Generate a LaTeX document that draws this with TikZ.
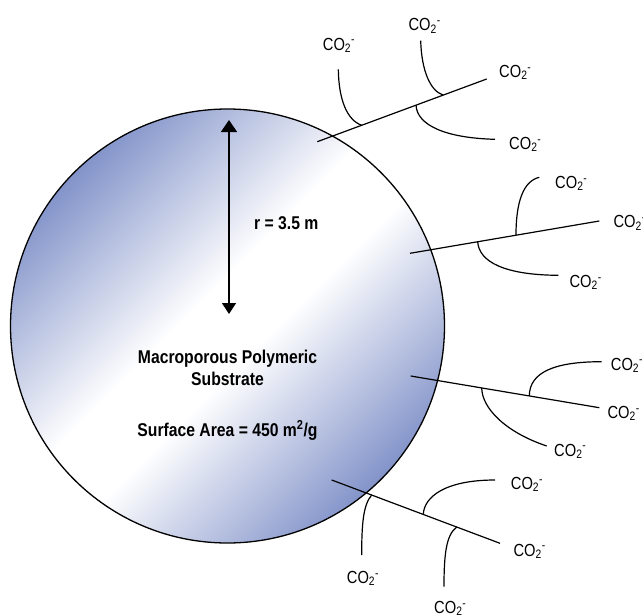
\documentclass[tikz,border=0pt]{standalone}
\usepackage{fontspec}
\setmainfont{Liberation Sans}
\newfontfamily\labfont[FakeStretch=0.84]{Liberation Sans}
\newfontfamily\txtfont[FakeStretch=0.85]{Liberation Sans}
\usetikzlibrary{arrows.meta}
\definecolor{ballblue}{RGB}{90,112,184}
\pgfdeclareverticalshading{ballshade}{100bp}{color(0bp)=(ballblue); color(18bp)=(ballblue); color(46bp)=(white); color(54bp)=(white); color(82bp)=(ballblue); color(100bp)=(ballblue)}
\newcommand{\cotwo}{CO\textsubscript{2}\textsuperscript{-}}
\begin{document}
\begin{tikzpicture}[x=1pt,y=-1pt,
  chain/.style={line width=1.2pt},
  lab/.style={inner sep=0pt, anchor=base west, font=\labfont\fontsize{17.5}{20}\selectfont},
  bigtext/.style={inner sep=0pt, anchor=base, font=\txtfont\bfseries\fontsize{18.5}{22}\selectfont},
  dimarrow/.style={line width=1.3pt, {Triangle[width=16pt,length=12pt]}-{Triangle[width=14pt,length=11pt]}}]
\useasboundingbox (0,0) rectangle (643,616);
\node[circle, minimum size=434pt, inner sep=0pt, draw, line width=1.3pt, shading=ballshade, shading angle=45] (ball) at (227.5,326) {};
% radius arrow and texts
\coordinate (rtop) at (229,120);
\coordinate (rbot) at (229,314);
\draw[dimarrow] (rtop) -- (rbot);
\node[bigtext, anchor=base west] (rlab) at (254,229.3) {r = 3.5 m};
\node[bigtext] (t1) at (227.5,363.3) {Macroporous Polymeric};
\node[bigtext] (t2) at (227.5,385) {Substrate};
\node[bigtext] (t3) at (227.5,436) {Surface Area = 450 m\textsuperscript{2}/g};
% chain 1
\coordinate (c1s) at (317.3,141.7);
\coordinate (c1e) at (486.7,79);
\coordinate (c1a) at (361.7,125.3);
\coordinate (c1b) at (443.3,95.1);
\coordinate (c1c) at (416,105.2);
\coordinate (e1a) at (338.3,69.3);
\coordinate (e1b) at (420.7,40.7);
\coordinate (e1c) at (495,139.3);
\draw[chain] (c1s) -- (c1e);
\draw[chain] (e1a) .. controls (338.8,100) and (347,120) .. (c1a);
\draw[chain] (e1b) .. controls (421.5,70) and (430,91) .. (c1b);
\draw[chain] (c1c) .. controls (417,125) and (445,138) .. (e1c);
\node[lab] (l1m) at (499,77.3) {\cotwo};
\node[lab] (l1a) at (322.7,50) {\cotwo};
\node[lab] (l1b) at (408.3,30.7) {\cotwo};
\node[lab] (l1c) at (509,149.3) {\cotwo};
% chain 2
\coordinate (c2s) at (410,253.3);
\coordinate (c2e) at (599.3,221);
\coordinate (c2d) at (516,235.2);
\coordinate (c2f) at (477.7,241.8);
\coordinate (e2d) at (539.3,177.3);
\coordinate (e2f) at (558.3,275.3);
\draw[chain] (c2s) -- (c2e);
\draw[chain] (c2d) .. controls (516,200) and (524,181) .. (e2d);
\draw[chain] (c2f) .. controls (479,262) and (505,275) .. (e2f);
\node[lab] (l2m) at (613.3,227.7) {\cotwo};
\node[lab] (l2d) at (555,188.3) {\cotwo};
\node[lab] (l2f) at (569.3,287.3) {\cotwo};
% chain 3
\coordinate (c3s) at (410.7,376);
\coordinate (c3e) at (599.3,407.7);
\coordinate (c3f) at (529.3,395.9);
\coordinate (c3g) at (481.7,387.9);
\coordinate (e3f) at (601.7,361.7);
\coordinate (e3g) at (546.7,446);
\draw[chain] (c3s) -- (c3e);
\draw[chain] (c3f) .. controls (529.5,372) and (555,361.7) .. (e3f);
\draw[chain] (c3g) .. controls (482,408) and (505,432) .. (e3g);
\node[lab] (l3m) at (607.3,418.3) {\cotwo};
\node[lab] (l3f) at (610.7,370) {\cotwo};
\node[lab] (l3g) at (554,456) {\cotwo};
% chain 4
\coordinate (c4s) at (331.7,480);
\coordinate (c4e) at (500,543.3);
\coordinate (c4h) at (371.7,495);
\coordinate (c4i) at (423.3,514.4);
\coordinate (c4j) at (456.7,527);
\coordinate (e4h) at (361.7,555);
\coordinate (e4i) at (495,480);
\coordinate (e4j) at (444,586.7);
\draw[chain] (c4s) -- (c4e);
\draw[chain] (e4h) .. controls (361.7,525) and (363,505) .. (c4h);
\draw[chain] (c4i) .. controls (424,497) and (445,480) .. (e4i);
\draw[chain] (e4j) .. controls (444,555) and (446,535) .. (c4j);
\node[lab] (l4m) at (513.3,556) {\cotwo};
\node[lab] (l4i) at (510.7,489.3) {\cotwo};
\node[lab] (l4h) at (346.7,583.3) {\cotwo};
\node[lab] (l4j) at (434,613.3) {\cotwo};
\end{tikzpicture}
\end{document}
